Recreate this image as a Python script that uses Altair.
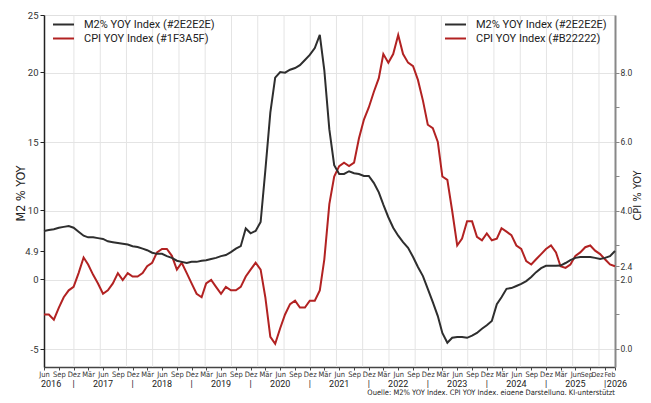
import altair as alt
import pandas as pd

# ---------------- data (monthly, Jun 2016 ... Feb 2026) ----------------
m2_2016 = [7.4, 7.5, 7.6, 7.8, 7.9, 8.0, 7.8]
m2_2017 = [7.3, 6.8, 6.6, 6.6, 6.5, 6.4, 6.1, 6.0, 5.9, 5.8, 5.7, 5.5]
m2_2018 = [5.4, 5.2, 5.0, 4.6, 4.4, 4.4, 4.0, 3.7, 3.2, 3.0, 2.8, 3.0]
m2_2019 = [3.0, 3.2, 3.3, 3.5, 3.7, 4.0, 4.2, 4.7, 5.2, 5.5, 7.7, 7.1]
m2_2020 = [7.4, 8.5, 12.9, 17.1, 19.6, 20.0, 19.95, 20.2, 20.35, 20.6, 21.05, 21.5]
m2_2021 = [22.1, 23.25, 20.15, 15.9, 13.3, 12.65, 12.65, 12.85, 12.7, 12.65, 12.5, 12.5]
m2_2022 = [12.0, 11.3, 10.4, 9.1, 7.8, 6.8, 6.0, 5.3, 3.85, 2.1, 0.5, -0.7]
m2_2023 = [-1.65, -2.65, -3.85, -4.55, -4.2, -4.15, -4.15, -4.2, -4.05, -3.85, -3.55, -3.3]
m2_2024 = [-3.0, -1.8, -1.3, -0.7, -0.65, -0.5, -0.35, -0.15, 0.35, 1.2, 1.9, 2.3]
m2_2025 = [2.3, 2.3, 2.35, 2.8, 3.3, 3.7, 3.85, 3.85, 3.85, 3.7, 3.5, 3.7]
m2_2026 = [4.0, 4.9]

cpi_2016 = [1.0, 1.0, 0.85, 1.2, 1.5, 1.7, 1.8]
cpi_2017 = [2.2, 2.65, 2.45, 2.15, 1.9, 1.6, 1.7, 1.9, 2.2, 2.0, 2.2, 2.1]
cpi_2018 = [2.1, 2.2, 2.4, 2.5, 2.8, 2.9, 2.9, 2.7, 2.3, 2.5, 2.2, 1.9]
cpi_2019 = [1.6, 1.5, 1.9, 2.0, 1.8, 1.6, 1.8, 1.7, 1.7, 1.8, 2.1, 2.3]
cpi_2020 = [2.5, 2.3, 1.5, 0.35, 0.15, 0.6, 1.0, 1.3, 1.4, 1.2, 1.2, 1.4]
cpi_2021 = [1.4, 1.7, 2.6, 4.2, 5.0, 5.3, 5.4, 5.3, 5.4, 6.1, 6.65, 7.0]
cpi_2022 = [7.45, 7.85, 8.55, 8.3, 8.55, 9.1, 8.55, 8.3, 8.2, 7.8, 7.2, 6.5]
cpi_2023 = [6.4, 6.0, 5.0, 4.9, 4.0, 3.0, 3.2, 3.7, 3.7, 3.25, 3.15, 3.35]
cpi_2024 = [3.15, 3.2, 3.5, 3.4, 3.3, 3.0, 2.9, 2.55, 2.45, 2.6, 2.75, 2.9]
cpi_2025 = [3.0, 2.8, 2.4, 2.35, 2.45, 2.7, 2.8, 2.95, 3.0, 2.85, 2.75, 2.6]
cpi_2026 = [2.45, 2.4]

m2_values = (m2_2016 + m2_2017 + m2_2018 + m2_2019 + m2_2020 + m2_2021
             + m2_2022 + m2_2023 + m2_2024 + m2_2025 + m2_2026)
cpi_values = (cpi_2016 + cpi_2017 + cpi_2018 + cpi_2019 + cpi_2020 + cpi_2021
              + cpi_2022 + cpi_2023 + cpi_2024 + cpi_2025 + cpi_2026)
months = pd.date_range("2016-06-01", periods=len(m2_values), freq="MS").strftime("%Y-%m-%d").tolist()

# axis tick values / labels
m2_ticks = [-5, 0, 4.9, 10, 15, 20, 25]
cpi_ticks = [0, 1, 2, 2.4, 3, 4, 5, 6, 7, 8]
x_ticks = pd.date_range("2016-06-01", "2025-12-01", freq="3MS").strftime("%Y-%m-%d").tolist() + ["2026-02-01"]
year_pos = ["2016-07-15", "2016-12-01", "2017-06-01", "2017-12-01", "2018-06-01", "2018-12-01",
            "2019-06-01", "2019-12-01", "2020-06-01", "2020-12-01", "2021-06-01", "2021-12-01",
            "2022-06-01", "2022-12-01", "2023-06-01", "2023-12-01", "2024-06-01", "2024-12-01",
            "2025-06-01", "2025-12-01", "2026-02-13"]
year_text = ["2016", "|", "2017", "|", "2018", "|", "2019", "|", "2020", "|", "2021", "|",
             "2022", "|", "2023", "|", "2024", "|", "2025", "|", "2026"]
vgrid_dates = ["2016-12-03", "2017-05-15", "2017-10-24", "2018-04-04", "2018-09-14", "2019-02-23",
               "2019-08-05", "2020-01-14", "2020-06-25", "2020-12-04", "2021-05-15", "2021-10-24",
               "2022-04-05", "2022-09-14", "2023-02-23", "2023-08-05", "2024-01-14", "2024-06-25",
               "2024-12-04", "2025-05-15", "2025-10-25"]

leg1 = ["M2% YOY Index (#2E2E2E)", "CPI YOY Index (#1F3A5F)"]
leg2 = ["M2% YOY Index (#2E2E2E)", "CPI YOY Index (#B22222)"]
source = "Quelle: M2% YOY Index, CPI YOY Index, eigene Darstellung, KI-unterstützt"

BLACK = "#2E2E2E"
RED = "#B22222"
W, H = 571, 352
NARROW = "Liberation Sans Narrow, Arial Narrow, DejaVu Sans Condensed, Roboto, sans-serif"
BASE = "Roboto, Liberation Sans, sans-serif"


def ts(d):
    return int(pd.Timestamp(d, tz="UTC").timestamp() * 1000)


df = pd.DataFrame({"date": months, "m2": m2_values, "cpi": cpi_values})
df["leg1"] = leg1[0]
df["leg2"] = leg2[1]
years_df = pd.DataFrame({"date": year_pos, "label": year_text})
vgrid_df = pd.DataFrame({"date": vgrid_dates})
source_df = pd.DataFrame({"t": [source]})

last_tick = f"datum.value >= {ts('2026-01-15')}"
crowded = f"datum.value > {ts('2025-08-15')}"
dez_2025 = f"datum.value > {ts('2025-11-15')} && datum.value < {ts('2025-12-15')}"
sep_2025 = f"datum.value > {ts('2025-08-15')} && datum.value < {ts('2025-09-15')}"

x_axis = alt.Axis(
    values=[ts(d) for d in x_ticks],
    labelExpr="['Jan','Feb','Mär','Apr','Mai','Jun','Jul','Aug','Sep','Okt','Nov','Dez'][utcmonth(datum.value)]",
    labelAlign={"condition": {"test": last_tick, "value": "right"}, "value": "center"},
    labelOffset={"condition": [{"test": dez_2025, "value": -8}, {"test": sep_2025, "value": -4}],
                 "value": 0},
    labelFontSize={"condition": {"test": crowded, "value": 7}, "value": 7.5},
    grid=False, title=None, domainColor="#444", domainWidth=1.5,
    tickColor="#444", tickSize=3, labelPadding=0, labelFont=NARROW,
    labelColor="#333", labelOverlap=False, labelFlush=False, labelBound=False,
)
x_scale = alt.Scale(type="utc", domain=[ts("2016-06-01"), ts("2026-02-01")])


def xenc():
    return alt.X("date:T", scale=x_scale, axis=x_axis, title=None)


vgrid = alt.Chart(vgrid_df).mark_rule(color="#e4e4e4", strokeWidth=1).encode(x=xenc())

years = alt.Chart(years_df).mark_text(fontSize=9, font=BASE, color="#222", baseline="middle").encode(
    x=xenc(), y=alt.value(H + 17), text="label:N")

src = alt.Chart(source_df).mark_text(fontSize=7.5, font=NARROW, color="#222", align="right",
                                     baseline="middle").encode(
    x=alt.value(W), y=alt.value(H + 25.5), text="t:N")

legend_common = dict(orient="none", title=None, symbolType="M-2,0L2,0", symbolSize=110,
                     symbolStrokeWidth=2, labelFontSize=11, labelFont=BASE, labelColor="#222",
                     rowPadding=2, labelOffset=14, padding=0)

minor_test = "indexof([1, 3, 5, 7], datum.value) >= 0"

cpi_line = alt.Chart(df).mark_line(strokeWidth=2).encode(
    x=xenc(),
    y=alt.Y("cpi:Q", title="CPI % YOY",
            scale=alt.Scale(domain=[-0.522, 9.681], nice=False, zero=False),
            axis=alt.Axis(orient="right", values=cpi_ticks,
                          labelExpr=f"{minor_test} ? '' : format(datum.value, '.1f')",
                          grid=True, gridColor="#e4e4e4",
                          gridOpacity={"condition": {"test": "datum.value % 2 != 0", "value": 0}, "value": 1},
                          domainColor="#888", domainWidth=2, tickColor="#888", tickSize=4,
                          labelPadding=1, labelFontSize=8.5, labelFont=BASE, labelColor="#333",
                          titleFont=NARROW, titleFontSize=11, titleFontWeight="normal",
                          titleColor="#222", titleAngle=270, titleBaseline="middle",
                          titleX=22.5, titleY=180)),
    stroke=alt.Stroke("leg2:N", scale=alt.Scale(domain=leg2, range=[BLACK, RED]),
                      legend=alt.Legend(legendX=405, legendY=3, **legend_common)),
)

m2_line = alt.Chart(df).mark_line(strokeWidth=2).encode(
    x=xenc(),
    y=alt.Y("m2:Q", title="M2 % YOY",
            scale=alt.Scale(domain=[-6.29, -5, 0, 4.9, 10, 15, 20, 25],
                            range=[352, 334, 264, 236, 195, 127, 57, 0], nice=False, zero=False),
            axis=alt.Axis(orient="left", values=m2_ticks, labelExpr="'' + datum.value", grid=False,
                          domainColor="#222", domainWidth=1.5, tickColor="#222", tickSize=4,
                          labelPadding=2, labelFontSize=9.5, labelFont=BASE, labelColor="#333",
                          titleFont=NARROW, titleFontSize=12.5, titleFontWeight="normal",
                          titleColor="#222", titleAngle=270, titleBaseline="middle",
                          titleX=-24, titleY=178)),
    color=alt.Color("leg1:N", scale=alt.Scale(domain=leg1, range=[BLACK, RED]),
                    legend=alt.Legend(legendX=13, legendY=3, **legend_common)),
)

chart = alt.layer(vgrid, years, src, cpi_line, m2_line).resolve_scale(
    y="independent", color="independent", stroke="independent"
).properties(
    width=W, height=H,
    autosize=alt.AutoSizeParams(type="none"),
    padding={"left": 36, "top": 7, "right": 28, "bottom": 28},
    background="white",
).configure_view(stroke="#e0e0e0")

chart.save("out.html", embed_options={"renderer": "svg", "actions": False})
